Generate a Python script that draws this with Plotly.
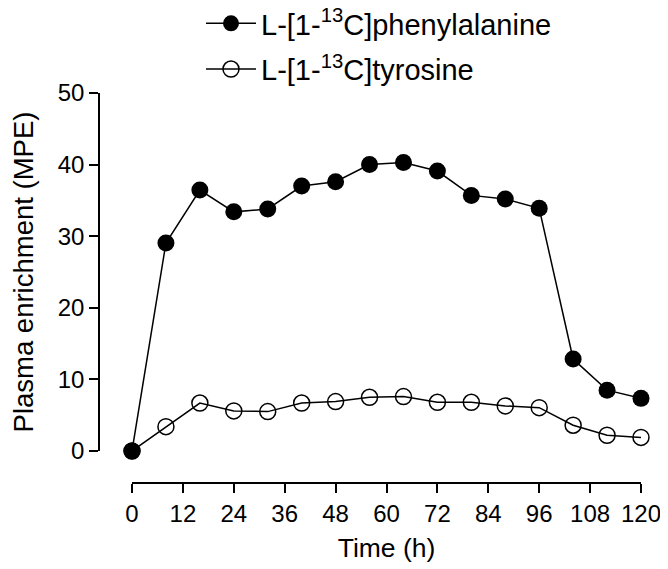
import plotly.graph_objects as go

time_h = [0, 8, 16, 24, 32, 40, 48, 56, 64, 72, 80, 88, 96, 104, 112, 120]
phenylalanine = [0, 29.05, 36.45, 33.4, 33.8, 37.0, 37.6, 40.0, 40.3, 39.1, 35.7, 35.2, 33.9, 12.85, 8.5, 7.35]
tyrosine = [0, 3.4, 6.7, 5.6, 5.5, 6.7, 6.9, 7.5, 7.6, 6.8, 6.8, 6.3, 6.05, 3.6, 2.2, 1.9]
x_ticks = [0, 12, 24, 36, 48, 60, 72, 84, 96, 108, 120]
y_ticks = [0, 10, 20, 30, 40, 50]

FONT = "Liberation Sans, Arial, sans-serif"

fig = go.Figure()
fig.add_trace(go.Scatter(
    x=time_h, y=phenylalanine, mode="lines+markers",
    name="L-[1-<sup>13</sup>C]phenylalanine", legendgroup="phe",
    line=dict(color="black", width=1.5),
    marker=dict(symbol="circle", size=17, color="black"),
    cliponaxis=False,
))
fig.add_trace(go.Scatter(
    x=time_h, y=tyrosine, mode="lines+markers",
    name="L-[1-<sup>13</sup>C]tyrosine", legendgroup="tyr",
    line=dict(color="black", width=1.5),
    marker=dict(symbol="circle-open", size=16, color="black", line=dict(color="black", width=1.5)),
    cliponaxis=False,
))

# page body has an 8px margin; figure is sized/placed to compensate
W, H = 660, 561
l, r, t, b = 91, 27, 85, 86
pw, ph = W - l - r, H - t - b

fig.update_layout(
    width=W, height=H,
    margin=dict(l=l, r=r, t=t, b=b, autoexpand=False),
    paper_bgcolor="white", plot_bgcolor="white",
    font=dict(family=FONT, size=24, color="black"),
    showlegend=True,
    legend=dict(
        x=(193 - l) / pw, y=1 + (t + 10) / ph, xanchor="left", yanchor="top",
        traceorder="grouped", tracegroupgap=5,
        font=dict(size=29, family=FONT, color="black"),
        bgcolor="rgba(0,0,0,0)", itemwidth=50,
    ),
    xaxis=dict(
        domain=[(124 - l) / pw, 1], range=[0, 120],
        tickmode="array", tickvals=x_ticks, ticktext=[str(v) for v in x_ticks],
        showline=True, linecolor="black", linewidth=1.5,
        ticks="outside", ticklen=9, tickwidth=1.5, tickcolor="black",
        showgrid=False, zeroline=False,
        anchor="free", position=0,
        title=dict(text="Time (h)", font=dict(size=26.5, family=FONT), standoff=12),
        tickfont=dict(size=24, family=FONT),
    ),
    yaxis=dict(
        domain=[(475 - 443) / ph, 1], range=[0, 50],
        tickmode="array", tickvals=y_ticks, ticktext=[str(v) for v in y_ticks],
        showline=True, linecolor="black", linewidth=1.5,
        ticks="outside", ticklen=9, tickwidth=1.5, tickcolor="black",
        showgrid=False, zeroline=False,
        anchor="free", position=0,
        title=dict(text="Plasma enrichment (MPE)", font=dict(size=27.5, family=FONT), standoff=20),
        tickfont=dict(size=24, family=FONT),
    ),
)

fig.write_html("out.html")
